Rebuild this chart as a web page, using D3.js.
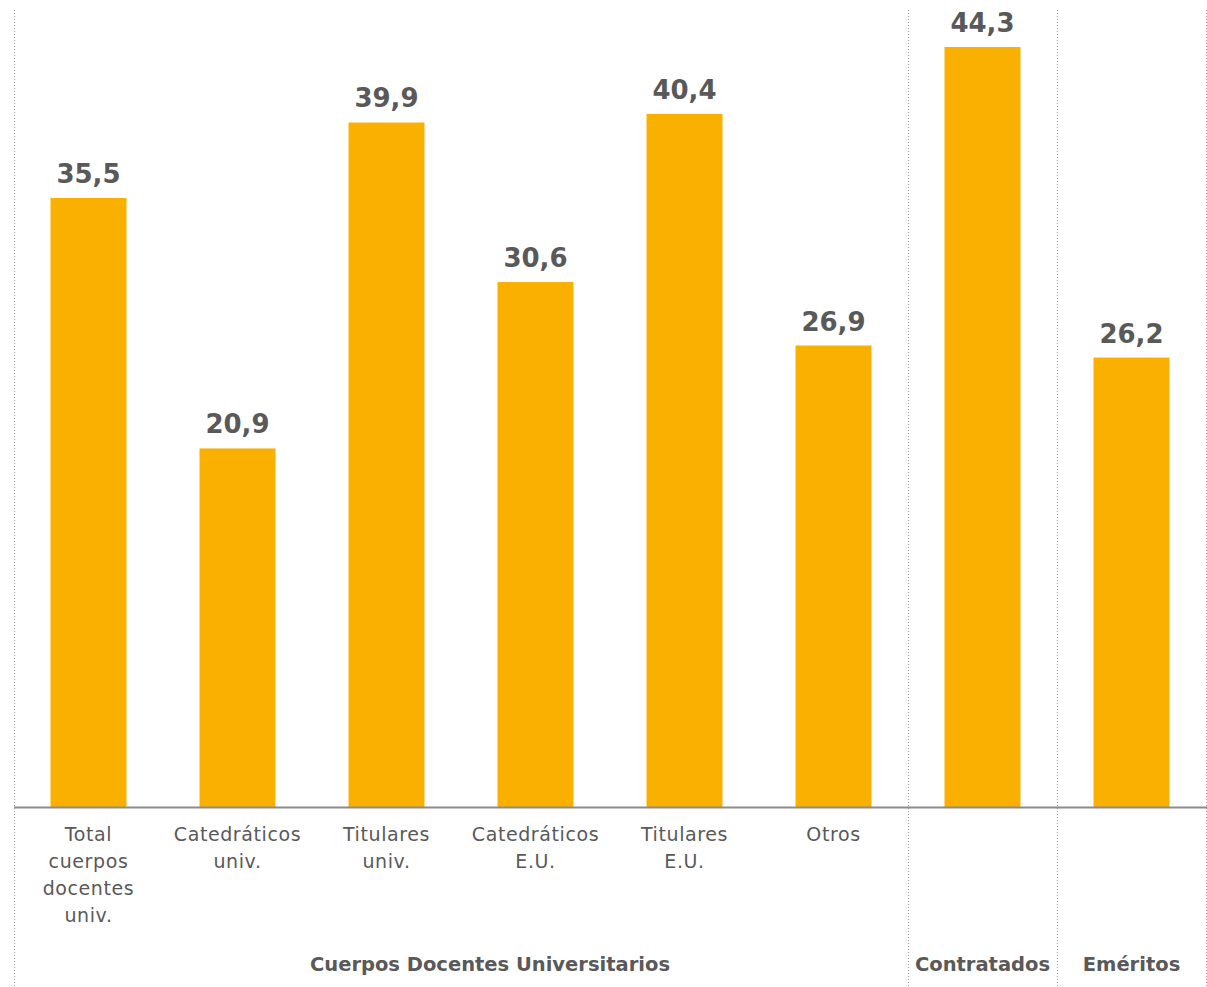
<!DOCTYPE html>
<html>
<head>
<meta charset="utf-8">
<script src="https://cdn.jsdelivr.net/npm/d3@7"></script>
<style>
    body { margin: 0; background: #fff; }
    text { font-family: "DejaVu Sans", sans-serif; fill: #595959; }
</style>
</head>
<body>
<script>
// categories (one bar each) and the value shown above the bar
var categories = [
    ["Total", "cuerpos", "docentes", "univ."],
    ["Catedráticos", "univ."],
    ["Titulares", "univ."],
    ["Catedráticos", "E.U."],
    ["Titulares", "E.U."],
    ["Otros"],
    [],
    []
];
var values = [35.5, 20.9, 39.9, 30.6, 40.4, 26.9, 44.3, 26.2];

// groups: label and the index range of bars they cover
var groups = ["Cuerpos Docentes Universitarios", "Contratados", "Eméritos"];
var groupStart = [0, 6, 7];
var groupEnd = [5, 6, 7];

var w = 1207, h = 987;
var baseY = 807;

var svg = d3.select("body")
    .append("svg")
    .attr("width", w)
    .attr("height", h);

var x = d3.scaleBand()
    .domain(d3.range(values.length))
    .range([14, 1206])
    .paddingInner(0.49)
    .paddingOuter(0.245);

var step = x.step();
var x0 = 14;

var y = d3.scaleLinear()
    .domain([0, 45])
    .range([baseY, 35]);

var fmt = function(v){ return d3.format(".1f")(v).replace(".", ","); };

// dotted separators
var seps = [0, 6, 7, 8];
svg.selectAll(".sep")
    .data(seps)
    .enter()
    .append("line")
    .attr("class", "sep")
    .attr("x1", function(d){ return x0 + d * step + 0.5; })
    .attr("x2", function(d){ return x0 + d * step + 0.5; })
    .attr("y1", 10)
    .attr("y2", h)
    .style("stroke", "#999")
    .style("stroke-width", 1)
    .style("stroke-dasharray", "1,2");

// bars
svg.selectAll(".bar")
    .data(values)
    .enter()
    .append("rect")
    .attr("class", "bar")
    .attr("x", function(d, i){ return x(i); })
    .attr("width", x.bandwidth())
    .attr("y", function(d){ return y(d); })
    .attr("height", function(d){ return baseY - y(d); })
    .style("fill", "#F9B000");

// baseline
svg.append("line")
    .attr("x1", 14)
    .attr("x2", w)
    .attr("y1", baseY + 0.5)
    .attr("y2", baseY + 0.5)
    .style("stroke", "#8c8c8c")
    .style("stroke-width", 2);

// value labels
svg.selectAll(".val")
    .data(values)
    .enter()
    .append("text")
    .attr("class", "val")
    .attr("text-anchor", "middle")
    .attr("x", function(d, i){ return x(i) + x.bandwidth() / 2; })
    .attr("y", function(d){ return y(d) - 15; })
    .style("font-size", "26px")
    .style("font-weight", "bold")
    .text(fmt);

// category labels
var cats = svg.selectAll(".cat")
    .data(categories)
    .enter()
    .append("text")
    .attr("class", "cat")
    .attr("text-anchor", "middle")
    .attr("y", 841)
    .style("font-size", "19px")
    .style("letter-spacing", "0.6px");

cats.selectAll("tspan")
    .data(function(d, i){ return d.map(function(s){ return {s: s, i: i}; }); })
    .enter()
    .append("tspan")
    .attr("x", function(d){ return x(d.i) + x.bandwidth() / 2; })
    .attr("dy", function(d, j){ return j === 0 ? 0 : 27; })
    .text(function(d){ return d.s; });

// group labels
svg.selectAll(".grp")
    .data(groups)
    .enter()
    .append("text")
    .attr("class", "grp")
    .attr("text-anchor", "middle")
    .attr("x", function(d, i){
        var c = x0 + (groupStart[i] + groupEnd[i] + 1) / 2 * step;
        return i === 0 ? c + 29 : c;
    })
    .attr("y", 971)
    .style("font-size", "19.5px")
    .style("font-weight", "bold")
    .text(function(d){ return d; });
</script>
</body>
</html>
